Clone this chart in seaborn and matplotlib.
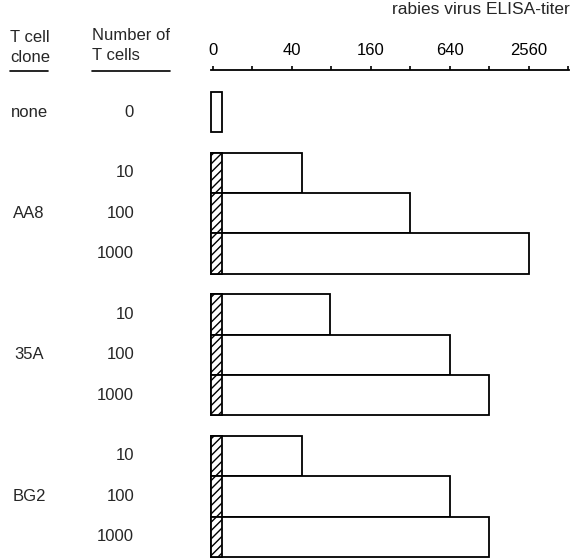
import matplotlib
matplotlib.use("Agg")
import matplotlib.pyplot as plt
import matplotlib.transforms as mtransforms
from matplotlib.lines import Line2D
import numpy as np
import pandas as pd
import seaborn as sns

# ---- data ----
clones = ["none", "AA8", "35A", "BG2"]
cell_numbers = ["0", "10", "100", "1000"]
none_titer = [11.8]
aa8_titer = [48, 320, 2560]
a35_titer = [78, 640, 1280]
bg2_titer = [48, 640, 1280]
baseline_titer = 11.8
tick_values = [10, 20, 40, 80, 160, 320, 640, 1280, 2560, 5120]
tick_labels = ["0", "", "40", "", "160", "", "640", "", "2560", ""]

# row positions (group gaps of half a bar)
row_pos = [0.0, 1.5, 2.5, 3.5, 5.0, 6.0, 7.0, 8.5, 9.5, 10.5]
row_clone = ["none"] + ["AA8"] * 3 + ["35A"] * 3 + ["BG2"] * 3
row_cells = ["0"] + ["10", "100", "1000"] * 3
row_titer = none_titer + aa8_titer + a35_titer + bg2_titer

df = pd.DataFrame({"pos": row_pos, "clone": row_clone, "cells": row_cells,
                   "titer": row_titer})
df_base = pd.DataFrame({"pos": row_pos[1:], "titer": [baseline_titer] * 9})

sns.set_theme(style="white")
plt.rcParams["font.family"] = ["Liberation Sans", "DejaVu Sans"]
plt.rcParams["hatch.linewidth"] = 1.0

W, H = 572, 559
fig = plt.figure(figsize=(W / 100, H / 100), dpi=100)
ax_l, ax_r, ax_t, ax_b = 211, 569, 70, 557
ax = fig.add_axes([ax_l / W, 1 - ax_b / H, (ax_r - ax_l) / W, (ax_b - ax_t) / H])

sns.barplot(data=df, x="titer", y="pos", orient="y", native_scale=True,
            log_scale=(2, False), color="white", edgecolor="black",
            linewidth=1.3, width=1.0, saturation=1, ax=ax, errorbar=None)
sns.barplot(data=df_base, x="titer", y="pos", orient="y", native_scale=True,
            color="white", edgecolor="black", linewidth=1.3, width=1.0,
            saturation=1, hatch="////", ax=ax, errorbar=None)

lo = np.log2(10) - 0.038
hi = np.log2(5120) + 0.013
xmin = 2 ** lo
ax.set_xlim(xmin, 2 ** hi)
ax.set_ylim(11.0, -1.04)

# start every bar at the left edge of the (log) axis instead of at 0
start = 2 ** (lo + 0.012)
for p in ax.patches:
    right = p.get_x() + p.get_width()
    p.set_x(start)
    p.set_width(right - start)
    p.set_clip_on(False)
    p.set_joinstyle("miter")

ax.xaxis.tick_top()
ax.set_xticks(tick_values)
ax.set_xticklabels(tick_labels, fontsize=12)
ax.xaxis.set_minor_locator(matplotlib.ticker.NullLocator())
ax.tick_params(axis="x", direction="out", length=3, width=1.2, pad=5.5,
               colors="black", top=True, bottom=False)
ax.set_yticks([])
ax.set_xlabel("")
ax.set_ylabel("")
for s in ["left", "right", "bottom"]:
    ax.spines[s].set_visible(False)
ax.spines["top"].set_linewidth(1.3)
ax.spines["top"].set_color("black")
ax.set_facecolor("white")

# ---- text ----
fs = 12
fig.text(570 / W, 1 - 10 / H, "rabies virus ELISA-titer", ha="right",
         va="center", fontsize=12.5)
fig.text(10 / W, 1 - 38 / H, "T cell", ha="left", va="center", fontsize=fs)
fig.text(10 / W, 1 - 57 / H, "clone", ha="left", va="center", fontsize=fs)
fig.text(92 / W, 1 - 36 / H, "Number of", ha="left", va="center", fontsize=fs)
fig.text(92 / W, 1 - 56 / H, "T cells", ha="left", va="center", fontsize=fs)
fig.add_artist(Line2D([10 / W, 48 / W], [1 - 71 / H, 1 - 71 / H],
                      color="black", lw=1.2, transform=fig.transFigure))
fig.add_artist(Line2D([92 / W, 170 / W], [1 - 71 / H, 1 - 71 / H],
                      color="black", lw=1.2, transform=fig.transFigure))

tr = mtransforms.blended_transform_factory(fig.transFigure, ax.transData)
clone_pos = [0.0, 2.5, 6.0, 9.5]
for name, p in zip(clones, clone_pos):
    fig.text(29 / W, p, name, ha="center", va="center", fontsize=fs,
             transform=tr)
for lab, p in zip(row_cells, row_pos):
    fig.text(134 / W, p, lab, ha="right", va="center", fontsize=fs,
             transform=tr)

fig.savefig("out.png", dpi=100, facecolor="white")
